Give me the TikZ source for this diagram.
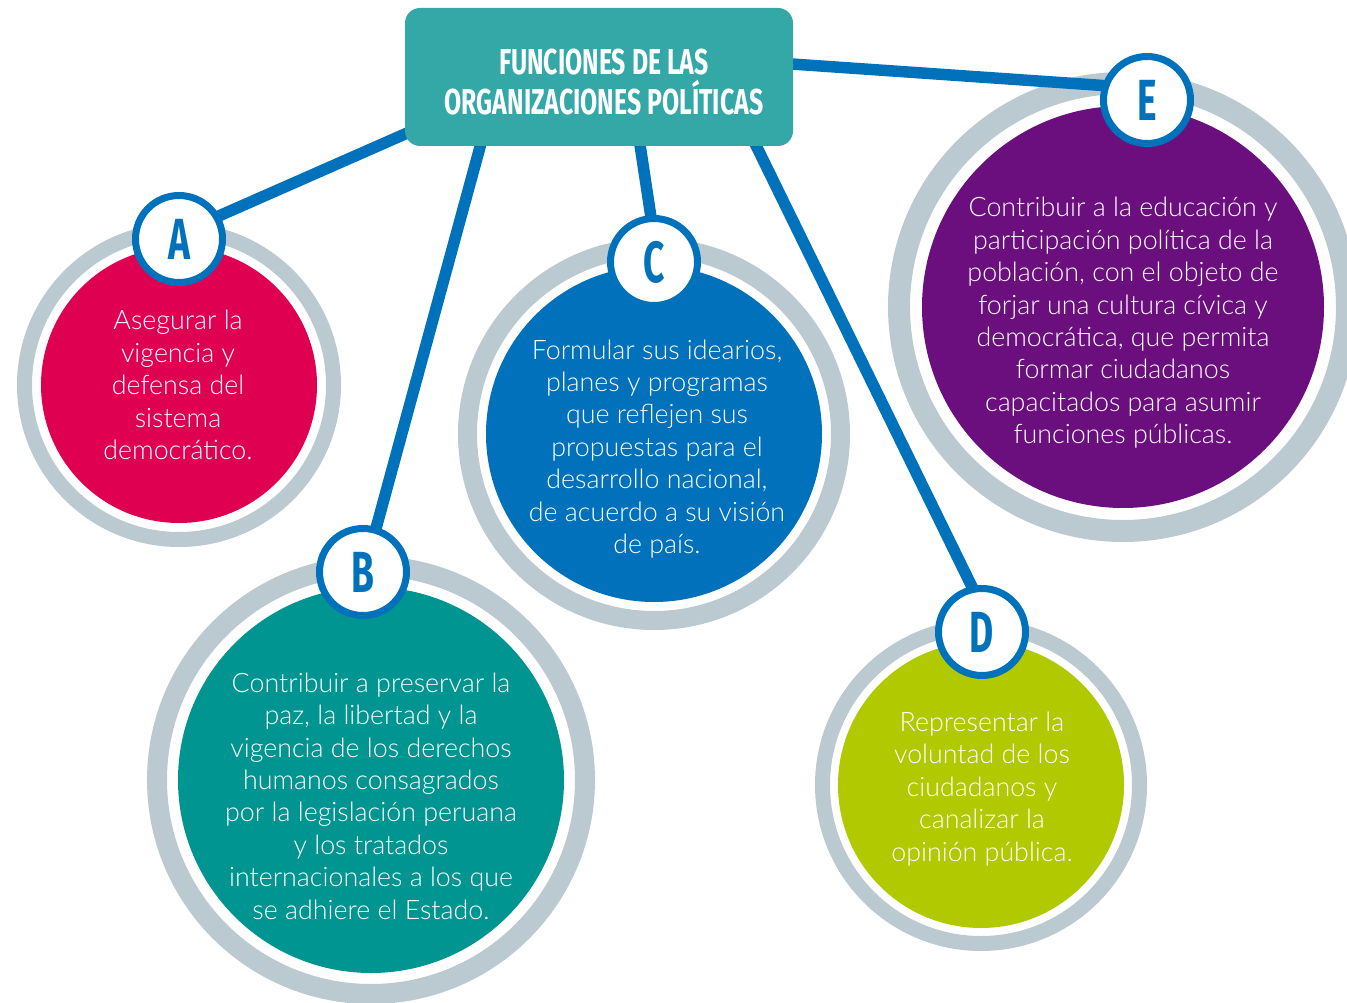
\documentclass[tikz,border=0pt]{standalone}
\usepackage{fontspec}
\setmainfont{Lato}
\newfontfamily\bodyfont{Lato Light}
\newfontfamily\headfont{Fira Sans}
\usetikzlibrary{calc}
\definecolor{pinkA}{HTML}{DF0052}
\definecolor{tealB}{HTML}{009591}
\definecolor{blueC}{HTML}{0071BA}
\definecolor{greenD}{HTML}{B0C900}
\definecolor{purpleE}{HTML}{6C0F7E}
\definecolor{ringgray}{HTML}{BBCAD1}
\definecolor{titleteal}{HTML}{34A7A7}
\definecolor{lineblue}{HTML}{0072BB}
\tikzset{
  ring/.style={circle, draw=ringgray, inner sep=0pt},
  disc/.style={circle, draw=none, inner sep=0pt},
  badge/.style={circle, draw=lineblue, line width=7pt, fill=white, minimum size=87pt,
    inner sep=0pt, text=lineblue, font=\headfont\bfseries\fontsize{58}{58}\selectfont},
  conn/.style={draw=lineblue, line width=11.5pt},
  desc/.style={text=white, align=center, inner sep=0pt,
    font=\bodyfont\fontsize{26.8}{32.4}\selectfont},
  titlebox/.style={fill=titleteal, rounded corners=15pt, minimum width=388pt,
    minimum height=138pt, inner sep=0pt},
  titletext/.style={text=white, align=center, inner sep=0pt,
    font=\headfont\bfseries\fontsize{36}{40}\selectfont},
}
\begin{document}
\begin{tikzpicture}[x=1pt,y=-1pt]
\useasboundingbox (0,0) rectangle (1347,1003);
\fill[white] (0,0) rectangle (1347,1003);

% rings and discs
\node[ring, line width=15pt, minimum size=309pt] (ringA) at (179,385) {};
\node[disc, fill=pinkA, minimum size=276pt] (discA) at (179,385) {};
\node[ring, line width=20pt, minimum size=428pt] (ringB) at (371,780) {};
\node[disc, fill=tealB, minimum size=386pt] (discB) at (371,780) {};
\node[ring, line width=19pt, minimum size=373pt] (ringC) at (654,434) {};
\node[disc, fill=blueC, minimum size=336pt] (discC) at (654,434) {};
\node[ring, line width=15pt, minimum size=317pt] (ringD) at (981,785) {};
\node[disc, fill=greenD, minimum size=286pt] (discD) at (981,785) {};
\node[ring, line width=22pt, minimum size=448pt] (ringE) at (1123,307) {};
\node[disc, fill=purpleE, minimum size=402pt] (discE) at (1123,307) {};

% texts
\node[desc] (txtA) at (178,385) {Asegurar la\\vigencia y\\defensa del\\sistema\\democrático.};
\node[desc] (txtB) at (371,796) {Contribuir a preservar la\\paz, la libertad y la\\vigencia de los derechos\\humanos consagrados\\por la legislación peruana\\y los tratados\\internacionales a los que\\se adhiere el Estado.};
\node[desc] (txtC) at (657,449) {Formular sus idearios,\\planes y programas\\que reflejen sus\\propuestas para el\\desarrollo nacional,\\de acuerdo a su visión\\de país.};
\node[desc] (txtD) at (982,789) {Representar la\\voluntad de los\\ciudadanos y\\canalizar la\\opinión pública.};
\node[desc] (txtE) at (1123,323) {Contribuir a la educación y\\participación política de la\\población, con el objeto de\\forjar una cultura cívica y\\democrática, que permita\\formar ciudadanos\\capacitados para asumir\\funciones públicas.};

% badge centres
\coordinate (pA) at (179,239);
\coordinate (pB) at (363,572);
\coordinate (pC) at (654,262);
\coordinate (pD) at (982,632);
\coordinate (pE) at (1147,100);

% connector start points inside the title box
\coordinate (sA) at (430,123);
\coordinate (sB) at (486,125);
\coordinate (sC) at (637,125);
\coordinate (sD) at (746,125);
\coordinate (sE) at (770,62.5);

\draw[conn] (sA) -- ($(pA)+(32:35pt)$);
\draw[conn] (sB) -- ($(pB)+(73:35pt)$);
\draw[conn] (sC) -- ($(pC)+(92.5:35pt)$);
\draw[conn] (sD) -- ($(pD)+(98:35pt)$);
\draw[conn] (sE) -- ($(pE)+(157:35pt)$);

% title
\node[titlebox] (title) at (599,77) {};
\node[titletext] (titletxt) at (604,82.5) {\scalebox{0.69}[1]{FUNCIONES DE LAS}\\\scalebox{0.69}[1]{ORGANIZACIONES POLÍTICAS}};

% badges
\node[badge] (A) at (pA) {\scalebox{0.64}[1]{A}};
\node[badge] (B) at (pB) {\scalebox{0.64}[1]{B}};
\node[badge] (C) at (pC) {\scalebox{0.64}[1]{C}};
\node[badge] (D) at (pD) {\scalebox{0.64}[1]{D}};
\node[badge] (E) at (pE) {\scalebox{0.64}[1]{E}};
\end{tikzpicture}
\end{document}
